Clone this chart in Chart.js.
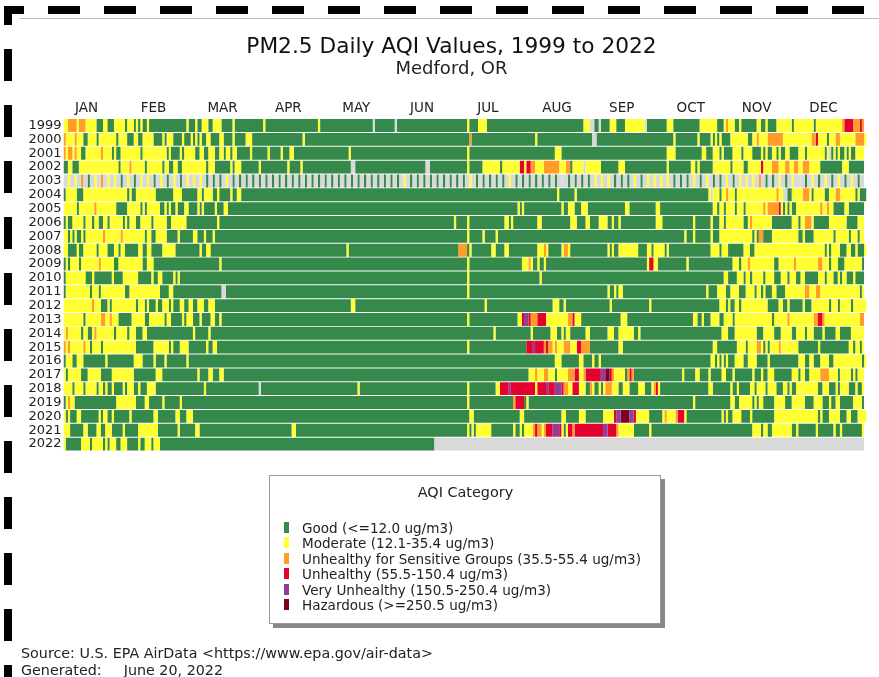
<!DOCTYPE html>
<html>
<head>
<meta charset="utf-8">
<title>PM2.5 Daily AQI Values</title>
<script src="https://cdn.jsdelivr.net/npm/chart.js@4"></script>
<style>
  html, body { margin: 0; padding: 0; background: #fff; overflow: hidden; }
  #wrap { position: relative; width: 879px; height: 677px; font-family: "DejaVu Sans", sans-serif; color: #222; }
  #myChart { position: absolute; left: 0; top: 0; }
  #legendBox { position: absolute; left: 269px; top: 475px; width: 390px; height: 147px; background: #fff; border: 1px solid #999; box-shadow: 4px 4px 0 #888; }
  #legendBox h4 { position: absolute; left: 0; right: 0; top: 7px; margin: 0; padding-left: 1px; font-size: 14.4px; line-height: 18px; font-weight: normal; text-align: center; }
  .item { position: absolute; left: 32px; height: 16px; font-size: 13.55px; line-height: 16px; white-space: nowrap; }
  .swatch { position: absolute; left: -18px; top: 2px; width: 5px; height: 11px; }
  .note { position: absolute; left: 21px; font-size: 14.3px; line-height: 17px; white-space: pre; }
</style>
</head>
<body>
<div id="wrap">
  <canvas id="myChart" width="879" height="677"></canvas>
  <div id="legendBox"><h4>AQI Category</h4></div>
  <div class="note" style="top:645px">Source: U.S. EPA AirData &lt;https://www.epa.gov/air-data&gt;</div>
  <div class="note" style="top:662px">Generated:<span style="margin-left:22px">June 20, 2022</span></div>
</div>
<script>
// AQI category codes, missing day = M
const M = 0, G = 1, Y = 2, O = 3, R = 4, V = 5, H = 6;

const categoryColors = ["#d9d9d9", "#34894b", "#ffff33", "#ff9d26", "#e3032e", "#8f3f97", "#7e0023"];
const legendLabels = [
  "Good (<=12.0 ug/m3)",
  "Moderate (12.1-35.4 ug/m3)",
  "Unhealthy for Sensitive Groups (35.5-55.4 ug/m3)",
  "Unhealthy (55.5-150.4 ug/m3)",
  "Very Unhealthy (150.5-250.4 ug/m3)",
  "Hazardous (>=250.5 ug/m3)",
];
const years = ["1999","2000","2001","2002","2003","2004","2005","2006","2007","2008","2009","2010","2011","2012","2013","2014","2015","2016","2017","2018","2019","2020","2021","2022"];
const months = ["JAN","FEB","MAR","APR","MAY","JUN","JUL","AUG","SEP","OCT","NOV","DEC"];
const monthLabelDays = [10.5, 41, 72.5, 102.5, 133.5, 163.5, 193.5, 225, 254.5, 286, 316, 346.5];
const yearLengths = [365,366,365,365,365,366,365,365,365,366,365,365,365,366,365,365,365,366,365,365,365,366,365,365];

// each year: day of year where a run starts, then its category
const y1999 = [0,Y,2,O,6,Y,7,O,10,Y,15,G,18,Y,20,G,23,Y,28,G,29,Y,32,G,33,Y,34,G,35,Y,36,G,38,Y,39,G,56,Y,57,G,60,Y,61,G,63,Y,66,G,68,Y,72,G,77,Y,78,G,91,Y,92,G,116,Y,117,G,141,M,142,G,151,M,152,G,184,Y,185,G,189,Y,193,G,237,Y,240,M,242,G,244,M,245,G,249,Y,252,G,256,Y,265,M,266,G,275,Y,278,G,290,Y,298,G,301,Y,302,O,303,Y,306,G,308,Y,309,G,316,Y,318,G,320,Y,321,G,325,Y,332,G,333,Y,342,G,343,Y,355,O,356,R,360,O,363,R,364,O];
const y2000 = [0,O,1,Y,5,O,6,Y,9,G,11,Y,15,G,16,Y,24,G,25,Y,29,G,32,Y,34,G,36,Y,41,G,45,Y,46,G,47,Y,50,G,54,Y,55,G,58,Y,59,G,60,Y,61,G,62,Y,63,G,65,Y,67,G,71,Y,73,G,77,Y,78,G,83,Y,86,G,109,Y,110,G,185,O,186,G,215,Y,216,G,241,M,243,G,278,Y,279,G,289,Y,290,G,295,Y,296,G,297,Y,298,G,299,Y,300,G,304,Y,312,G,314,Y,316,O,317,Y,321,O,328,Y,341,O,343,R,344,Y,348,G,349,Y,352,O,354,Y,361,O,365,Y];
const y2001 = [0,O,1,Y,2,O,4,Y,5,O,6,Y,8,G,10,Y,17,O,18,Y,22,G,23,Y,24,G,26,Y,35,G,36,Y,47,G,48,Y,49,G,53,Y,54,G,55,Y,60,G,62,Y,64,G,66,Y,69,G,71,Y,73,G,74,Y,76,G,77,Y,79,G,85,Y,86,G,93,Y,94,G,99,Y,100,G,103,Y,105,G,130,Y,131,G,184,Y,185,G,224,Y,227,G,275,Y,279,G,291,Y,293,G,296,Y,299,G,300,Y,301,G,305,Y,309,G,310,Y,314,G,318,Y,319,G,320,Y,321,G,323,Y,325,G,326,Y,327,G,329,Y,331,G,335,Y,338,G,339,Y,347,G,348,Y,349,M,350,G,351,Y,352,G,353,Y,354,G,356,Y,357,G,358,Y,359,G,361,Y];
const y2002 = [0,G,2,Y,4,G,7,Y,25,G,26,Y,30,O,31,Y,37,G,38,Y,45,G,46,Y,48,G,50,Y,52,G,54,Y,65,G,66,Y,69,G,76,Y,77,G,78,Y,81,G,89,Y,90,G,102,Y,103,G,108,Y,109,G,131,M,133,G,165,M,167,G,184,Y,185,G,191,Y,199,G,200,Y,208,R,210,Y,211,R,213,O,215,Y,219,O,226,Y,229,O,231,G,232,Y,237,M,238,Y,245,G,253,Y,256,G,275,Y,276,G,286,Y,288,G,289,Y,290,G,296,Y,304,G,305,Y,310,G,312,Y,318,R,319,Y,323,O,326,Y,329,O,331,Y,333,O,335,Y,337,O,340,Y,345,G,355,Y,358,G];
const y2003Samples = [Y,Y,O,G,Y,O,Y,Y,G,Y,G,Y,Y,G,Y,G,Y,G,Y,Y,Y,G,G,G,Y,G,
  G,G,G,G,G,G,G,G,G,G,G,G,G,G,G,G,G,G,G,G,G,G,G,G,G,Y,
  G,G,G,G,G,G,G,G,G,Y,G,G,G,G,G,Y,G,G,G,G,G,G,G,M,G,G,G,G,Y,
  Y,Y,G,G,G,Y,G,Y,Y,Y,Y,G,G,G,Y,G,Y,G,G,Y,G,Y,Y,Y,O,G,G,Y,G,Y,M,G,Y,G,Y,G,Y,G,Y,G];
const y2004 = [0,G,1,Y,6,G,9,Y,29,G,30,Y,31,G,33,Y,42,G,50,Y,54,G,61,Y,63,G,64,Y,68,G,70,Y,71,G,76,Y,77,G,79,Y,81,G,225,Y,226,G,233,Y,234,G,294,Y,295,M,296,Y,299,G,300,Y,302,O,303,Y,306,G,307,Y,325,O,326,Y,328,M,330,G,332,Y,337,O,340,Y,341,G,342,Y,347,G,349,Y,352,O,354,Y,361,G,362,Y,363,G];
const y2005 = [0,Y,6,G,7,Y,14,O,15,Y,24,G,29,Y,35,G,36,Y,37,G,38,Y,44,G,46,Y,47,G,48,Y,49,G,51,Y,52,G,55,Y,57,G,61,Y,62,G,63,Y,64,G,69,Y,70,G,73,Y,75,G,207,Y,208,G,209,Y,210,G,227,Y,228,G,230,Y,233,G,236,Y,239,G,256,Y,258,G,270,Y,272,G,296,Y,298,G,299,Y,301,G,302,Y,306,G,307,Y,310,G,311,Y,319,O,320,Y,321,O,326,R,327,Y,328,G,329,Y,330,G,331,Y,332,G,334,Y,345,O,346,Y,348,O,349,Y,351,G,356,Y,358,G];
const y2006 = [0,G,1,Y,2,G,4,Y,9,G,10,Y,13,G,14,Y,16,G,18,Y,20,G,21,Y,27,G,28,Y,29,G,30,Y,33,G,35,Y,40,G,41,Y,47,G,49,Y,56,G,70,Y,71,G,178,Y,179,G,184,Y,185,G,201,Y,203,G,204,Y,205,G,216,Y,218,G,231,Y,234,G,238,Y,240,G,244,Y,248,G,250,Y,251,G,253,Y,254,G,270,Y,273,G,287,Y,288,G,295,Y,296,G,299,Y,301,G,302,Y,310,G,312,Y,313,O,314,Y,323,G,332,Y,335,G,336,Y,338,O,341,Y,342,G,349,Y,357,G,362,Y];
const y2007 = [0,Y,2,G,3,Y,4,G,5,Y,6,G,8,Y,9,G,10,Y,18,O,19,Y,26,O,27,Y,37,G,38,Y,40,G,42,Y,47,G,52,Y,53,G,59,Y,61,G,64,Y,65,G,68,Y,69,G,184,Y,185,G,191,Y,192,G,197,Y,198,G,283,Y,284,G,287,Y,288,G,295,Y,296,G,299,Y,314,G,315,Y,316,G,317,O,319,G,323,Y,335,G,337,Y,338,G,342,Y,351,G,352,Y,358,G,359,Y,362,G,363,Y];
const y2008 = [0,Y,2,G,6,Y,7,G,9,Y,15,G,16,Y,20,G,23,Y,25,G,26,Y,28,G,34,Y,36,G,38,Y,40,G,45,Y,51,G,62,Y,63,G,65,Y,67,G,129,Y,130,G,180,O,184,G,185,Y,186,G,195,Y,197,G,201,Y,203,G,216,Y,219,O,220,Y,221,G,227,Y,228,O,230,Y,231,G,248,Y,249,G,250,Y,251,G,253,Y,262,G,266,Y,268,G,269,Y,274,G,275,Y,276,G,295,Y,299,G,300,Y,303,G,310,Y,313,G,315,Y,347,G,348,Y,349,G,350,Y,354,G,357,Y,359,G,361,Y,362,G,365,Y];
const y2009 = [0,G,1,Y,2,G,3,Y,7,G,8,Y,16,O,17,Y,23,G,25,Y,36,G,38,Y,41,G,71,Y,72,G,184,Y,185,G,209,Y,212,O,213,Y,214,G,216,Y,217,G,219,Y,220,G,266,Y,267,R,269,Y,271,G,284,Y,285,G,305,Y,308,G,309,Y,312,O,313,Y,324,G,326,Y,333,O,334,Y,344,O,346,Y,349,G,350,Y,353,G,356,Y,364,G];
const y2010 = [0,G,1,Y,10,G,13,Y,14,G,22,Y,23,G,27,Y,34,G,40,Y,41,G,43,Y,45,G,50,Y,51,G,52,Y,53,G,184,Y,185,G,217,Y,218,G,301,Y,303,G,307,Y,310,G,311,Y,313,G,314,Y,319,G,320,Y,324,G,327,Y,330,G,331,Y,334,G,336,Y,338,G,344,Y,347,G,348,Y,351,G,353,Y,354,G,355,Y,357,G,360,Y,361,G];
const y2011 = [0,G,1,Y,12,G,13,Y,16,G,17,Y,28,G,30,Y,44,G,48,Y,50,G,72,M,74,G,184,Y,185,G,248,Y,249,G,251,Y,252,G,253,Y,255,G,293,Y,294,G,298,Y,302,G,304,Y,308,G,311,Y,315,G,316,Y,318,G,319,Y,320,G,323,Y,325,G,329,Y,338,O,340,Y,343,O,345,Y,363,G,364,Y];
const y2012 = [0,Y,13,O,14,Y,17,G,20,Y,21,G,22,Y,33,G,34,Y,37,G,38,Y,39,G,42,Y,43,G,45,Y,48,G,49,Y,50,G,53,Y,55,G,57,Y,59,G,61,Y,64,G,66,Y,69,G,131,Y,133,G,192,Y,193,G,223,Y,226,G,228,Y,229,G,249,Y,250,G,267,Y,268,G,299,Y,302,G,303,Y,304,G,306,Y,308,G,309,Y,321,G,326,Y,328,G,330,Y,331,G,337,Y,338,G,341,Y,349,G,350,Y,353,G,354,Y,359,G,360,Y];
const y2013 = [0,Y,9,G,10,Y,17,O,19,Y,21,O,22,Y,25,G,31,Y,37,G,39,Y,46,G,47,Y,49,G,54,Y,55,G,56,Y,59,G,62,Y,63,G,67,Y,69,G,71,Y,72,G,184,Y,185,G,207,Y,209,R,210,V,212,R,213,O,216,R,220,Y,230,O,232,R,233,Y,236,G,254,Y,257,G,287,Y,289,G,291,Y,292,G,295,Y,299,G,301,Y,305,G,306,Y,323,G,324,Y,330,O,331,Y,342,O,344,R,346,O,347,Y,363,O];
const y2014 = [0,Y,1,O,2,Y,8,G,9,Y,11,G,13,Y,14,O,15,Y,23,G,24,Y,29,G,30,Y,33,G,36,Y,38,G,59,Y,60,G,66,Y,67,G,196,Y,197,G,213,Y,214,G,222,Y,225,G,227,Y,228,G,229,Y,231,G,238,Y,240,G,248,Y,251,G,253,Y,260,G,262,Y,263,G,300,Y,303,G,306,Y,316,G,319,Y,324,G,327,Y,332,G,334,Y,338,G,339,Y,342,G,346,Y,347,G,352,Y,354,G,359,Y];
const y2015 = [0,O,1,Y,2,O,3,Y,9,O,10,Y,12,G,13,Y,17,G,18,Y,33,G,41,Y,48,G,49,Y,50,G,53,Y,57,G,65,Y,66,G,68,Y,70,G,184,Y,185,G,211,R,214,V,215,R,219,O,220,R,221,O,223,Y,224,O,225,Y,228,O,231,Y,234,R,236,O,240,G,253,Y,255,G,296,Y,298,G,307,Y,311,G,312,Y,316,O,318,Y,319,G,320,Y,321,G,322,Y,326,O,327,Y,335,G,344,Y,345,G,358,Y,360,G,361,Y,363,G,364,Y];
const y2016 = [0,G,1,Y,4,G,6,Y,9,G,19,Y,20,G,32,Y,36,G,41,Y,42,G,46,Y,47,G,56,Y,57,G,224,Y,227,G,235,Y,237,G,241,Y,242,G,244,Y,245,G,295,Y,297,G,298,Y,299,G,300,Y,301,G,302,Y,303,G,306,Y,310,G,312,Y,316,G,321,Y,322,G,335,Y,338,G,340,Y,342,G,345,Y,349,G,351,Y,364,G,365,Y];
const y2017 = [0,Y,1,G,2,Y,8,G,11,Y,17,G,22,Y,32,G,42,Y,45,G,61,Y,62,G,66,Y,68,G,71,Y,73,G,212,Y,215,O,216,Y,219,O,221,Y,224,G,225,Y,230,O,233,R,235,Y,237,O,238,R,245,V,247,H,249,R,250,O,251,Y,256,G,257,O,258,R,259,O,260,G,282,Y,283,G,288,Y,290,G,294,Y,295,G,300,Y,302,G,305,Y,306,G,314,Y,315,G,318,Y,319,G,321,Y,324,G,332,Y,335,G,336,Y,338,G,340,Y,345,O,349,Y,353,G,354,Y,359,G,360,Y,361,G,362,Y];
const y2018 = [0,Y,4,G,5,Y,9,G,10,Y,15,G,16,Y,18,G,19,Y,20,G,22,Y,23,G,27,Y,28,G,29,Y,32,G,34,Y,35,G,38,Y,42,G,64,Y,65,G,89,M,90,G,134,Y,135,G,184,Y,185,G,197,Y,199,R,203,V,204,R,215,Y,216,R,220,V,221,R,224,V,227,R,228,O,230,Y,232,R,235,Y,238,G,240,O,241,Y,242,G,244,Y,245,G,246,Y,247,O,250,Y,253,G,255,Y,258,G,262,Y,265,G,268,Y,269,O,270,R,271,Y,272,G,294,Y,296,G,304,Y,305,G,307,Y,308,G,313,Y,315,G,316,Y,320,G,321,Y,325,G,328,Y,330,G,331,Y,332,G,334,Y,344,G,346,Y,349,G,352,Y,353,G,354,Y,358,G,361,Y,362,G,364,Y];
const y2019 = [0,G,1,Y,2,O,3,Y,5,G,24,Y,33,G,37,Y,39,G,45,Y,46,G,53,Y,54,G,184,Y,185,G,205,O,206,R,210,G,211,Y,212,G,287,Y,288,G,304,Y,306,G,308,Y,314,G,315,Y,316,G,317,Y,319,G,324,Y,329,G,332,Y,338,G,342,Y,346,G,349,Y,350,G,352,Y,354,G,360,Y,364,G];
const y2020 = [0,Y,1,G,2,Y,3,G,6,Y,8,G,16,Y,17,G,18,Y,20,G,22,Y,23,G,30,Y,31,G,41,Y,43,G,51,Y,53,G,56,Y,59,G,185,Y,187,G,208,Y,210,G,227,Y,229,G,235,Y,238,G,246,Y,251,R,252,V,254,H,258,V,260,R,261,Y,267,G,273,Y,274,O,275,Y,279,O,280,R,283,Y,284,G,300,Y,301,G,302,Y,303,G,305,Y,309,G,313,Y,314,G,324,Y,344,G,345,Y,346,G,349,Y,354,G,357,Y,359,G,362,Y];
const y2021 = [0,Y,3,G,9,Y,11,G,15,Y,17,G,19,Y,22,G,27,Y,28,G,34,Y,43,G,52,Y,53,G,60,Y,62,G,104,Y,106,G,184,Y,185,G,186,Y,187,G,188,Y,195,G,205,Y,206,G,208,Y,209,G,210,Y,214,O,215,R,216,O,218,Y,219,O,220,R,223,V,226,R,227,Y,228,G,229,Y,230,R,232,O,233,R,246,V,248,R,252,O,253,Y,260,G,267,Y,268,G,314,Y,318,G,319,Y,321,G,323,Y,332,G,334,Y,335,G,343,Y,344,G,351,Y,352,G,354,Y,355,G,364,Y];
const y2022 = [0,Y,1,G,8,Y,12,G,13,Y,18,G,19,Y,20,G,21,Y,24,G,26,Y,29,G,34,Y,35,G,37,Y,40,G,41,Y,44,G,169,M];

// 2003 was sampled every third day, missing in between
var y2003 = [0, M];
y2003Samples.forEach(function (c, k) {
  y2003.push(2 + 3 * k, c, 3 + 3 * k, M);
});

var yearRuns = [y1999,y2000,y2001,y2002,y2003,y2004,y2005,y2006,y2007,y2008,y2009,y2010,y2011,y2012,y2013,y2014,y2015,y2016,y2017,y2018,y2019,y2020,y2021,y2022];

// dataset n holds the nth run of every year
var maxRuns = Math.max.apply(null, yearRuns.map(function (r) { return r.length / 2; }));
var datasets = [];
for (var n = 0; n < maxRuns; n++) {
  var values = [];
  var colors = [];
  yearRuns.forEach(function (runs, row) {
    var i = n * 2;
    if (i >= runs.length) {
      values.push(null);
      colors.push("#fff");
      return;
    }
    var end = i + 2 < runs.length ? runs[i + 2] : yearLengths[row];
    values.push([runs[i], end]);
    colors.push(categoryColors[runs[i + 1]]);
  });
  datasets.push({
    data: values,
    backgroundColor: colors,
    borderWidth: 0,
    grouped: false,
    barPercentage: 0.93,
    categoryPercentage: 1,
  });
}

// thick dashed frame and thin rule at the top left of the page
var framePlugin = {
  id: "frame",
  beforeDraw: function (chart) {
    var ctx = chart.ctx;
    ctx.save();
    ctx.strokeStyle = "#bbb";
    ctx.lineWidth = 1;
    ctx.beginPath();
    ctx.moveTo(20, 18.5);
    ctx.lineTo(879, 18.5);
    ctx.stroke();
    ctx.strokeStyle = "#000";
    ctx.lineWidth = 8;
    ctx.setLineDash([32, 24]);
    ctx.lineDashOffset = 12;
    ctx.beginPath();
    ctx.moveTo(4, 10);
    ctx.lineTo(866, 10);
    ctx.stroke();
    ctx.lineDashOffset = 13;
    ctx.beginPath();
    ctx.moveTo(8, 6);
    ctx.lineTo(8, 677);
    ctx.stroke();
    ctx.restore();
  },
};

var myChart = new Chart(document.getElementById("myChart"), {
  type: "bar",
  data: { labels: years, datasets: datasets },
  plugins: [framePlugin],
  options: {
    indexAxis: "y",
    responsive: false,
    animation: false,
    layout: { padding: { left: 28, right: 4, top: 34, bottom: 226 } },
    scales: {
      x: {
        position: "top",
        min: 0,
        max: 370,
        grid: { display: false, drawTicks: false },
        border: { display: false },
        afterFit: function (scale) { scale.height = 39; },
        afterBuildTicks: function (scale) {
          scale.ticks = monthLabelDays.map(function (d) { return { value: d }; });
        },
        ticks: {
          autoSkip: false,
          maxRotation: 0,
          padding: 2,
          color: "#222",
          font: { family: "DejaVu Sans", size: 13.5 },
          callback: function (value) { return months[monthLabelDays.indexOf(value)]; },
        },
      },
      y: {
        grid: { display: false, drawTicks: false },
        border: { display: false },
        afterFit: function (scale) { scale.width = 35.5; },
        ticks: {
          autoSkip: false,
          padding: 2,
          color: "#222",
          font: { family: "DejaVu Sans", size: 13 },
        },
      },
    },
    plugins: {
      legend: { display: false },
      tooltip: { enabled: false },
      title: {
        display: true,
        text: "PM2.5 Daily AQI Values, 1999 to 2022",
        color: "#111",
        font: { family: "DejaVu Sans", size: 21.7, weight: "normal" },
        padding: { top: 0, bottom: -2 },
      },
      subtitle: {
        display: true,
        text: "Medford, OR",
        color: "#222",
        font: { family: "DejaVu Sans", size: 18, weight: "normal" },
        padding: 0,
      },
    },
  },
});

// legend box
var legendBox = document.getElementById("legendBox");
legendLabels.forEach(function (label, i) {
  var item = document.createElement("div");
  item.className = "item";
  item.style.top = (43.5 + i * 15.5) + "px";
  item.textContent = label;
  var swatch = document.createElement("span");
  swatch.className = "swatch";
  swatch.style.background = categoryColors[i + 1];
  item.appendChild(swatch);
  legendBox.appendChild(item);
});
</script>
</body>
</html>
